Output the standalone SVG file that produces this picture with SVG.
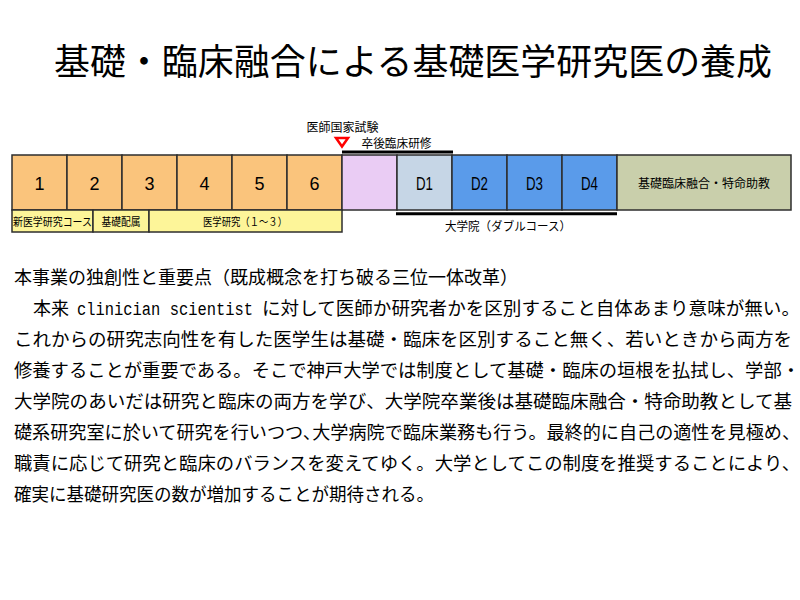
<svg xmlns="http://www.w3.org/2000/svg" width="800" height="600" viewBox="0 0 800 600">
<style>
  .jp { font-family: "Noto Sans CJK JP", "Noto Sans CJK SC", sans-serif; fill: #000; }
  .num { font-family: "Liberation Sans", Arial, sans-serif; font-size: 18px; fill: #000; text-anchor: middle; }
  .dl { font-family: "Liberation Sans", Arial, sans-serif; font-size: 19px; fill: #000; text-anchor: middle; }
  .box { stroke: #2e2e2e; stroke-width: 1.5; }
  .yr { fill: #FAC47C; }
  .pk { fill: #EACCF4; }
  .d1 { fill: #C6D6E6; }
  .dd { fill: #5A9BEA; }
  .ol { fill: #C9CFAB; }
  .ye { fill: #FDF599; }
  .sm { font-size: 11px; text-anchor: middle; }
  .md { font-size: 12px; }
  .body { font-size: 18px; }
  .bar { stroke: #000; stroke-width: 3; fill: none; }
</style>
<rect width="800" height="600" fill="#fff"/>

<g id="title">
  <text class="jp" x="54" y="75" font-size="36" textLength="718" lengthAdjust="spacingAndGlyphs">基礎・臨床融合による基礎医学研究医の養成</text>
</g>

<g id="year1"><rect class="box yr" x="12" y="155" width="55" height="55"/><text class="num" x="39.5" y="189.5">1</text></g>
<g id="year2"><rect class="box yr" x="67" y="155" width="55" height="55"/><text class="num" x="94.5" y="189.5">2</text></g>
<g id="year3"><rect class="box yr" x="122" y="155" width="55" height="55"/><text class="num" x="149.5" y="189.5">3</text></g>
<g id="year4"><rect class="box yr" x="177" y="155" width="55" height="55"/><text class="num" x="204.5" y="189.5">4</text></g>
<g id="year5"><rect class="box yr" x="232" y="155" width="55" height="55"/><text class="num" x="259.5" y="189.5">5</text></g>
<g id="year6"><rect class="box yr" x="287" y="155" width="55" height="55"/><text class="num" x="314.5" y="189.5">6</text></g>
<g id="residency"><rect class="box pk" x="342" y="155" width="55" height="55"/></g>
<g id="D1"><rect class="box d1" x="397" y="155" width="55" height="55"/><text class="dl" x="424.5" y="189.5" textLength="17" lengthAdjust="spacingAndGlyphs">D1</text></g>
<g id="D2"><rect class="box dd" x="452" y="155" width="55" height="55"/><text class="dl" x="479.5" y="189.5" textLength="17" lengthAdjust="spacingAndGlyphs">D2</text></g>
<g id="D3"><rect class="box dd" x="507" y="155" width="55" height="55"/><text class="dl" x="534.5" y="189.5" textLength="17" lengthAdjust="spacingAndGlyphs">D3</text></g>
<g id="D4"><rect class="box dd" x="562" y="155" width="55" height="55"/><text class="dl" x="589.5" y="189.5" textLength="17" lengthAdjust="spacingAndGlyphs">D4</text></g>
<g id="assistant-professor"><rect class="box ol" x="617" y="155" width="174" height="55"/><text class="jp md" x="704" y="187.5" text-anchor="middle" textLength="132" lengthAdjust="spacingAndGlyphs">基礎臨床融合・特命助教</text></g>

<g id="new-course"><rect class="box ye" x="12" y="210" width="81" height="22"/><text class="jp sm" x="52.5" y="226" textLength="79" lengthAdjust="spacingAndGlyphs">新医学研究コース</text></g>
<g id="basic-assignment"><rect class="box ye" x="93" y="210" width="56" height="22"/><text class="jp sm" x="121" y="226" textLength="39" lengthAdjust="spacingAndGlyphs">基礎配属</text></g>
<g id="medical-research"><rect class="box ye" x="149" y="210" width="193" height="22"/><text class="jp sm" x="245" y="226" textLength="84" lengthAdjust="spacingAndGlyphs">医学研究（１〜３）</text></g>

<g id="connectors">
  <line class="bar" x1="342" y1="152" x2="453" y2="152"/>
  <line class="bar" x1="396" y1="213.7" x2="617" y2="213.7"/>
  <polygon points="336,138 348,138 342,146.5" fill="#fff" stroke="#f00" stroke-width="2.5" stroke-linejoin="miter"/>
</g>

<g id="labels">
  <text class="jp md" x="306.5" y="131.5" textLength="72" lengthAdjust="spacingAndGlyphs">医師国家試験</text>
  <text class="jp md" x="361.5" y="148" textLength="70" lengthAdjust="spacingAndGlyphs">卒後臨床研修</text>
  <text class="jp md" x="445" y="231" textLength="126" lengthAdjust="spacingAndGlyphs">大学院（ダブルコース）</text>
</g>

<g id="body">
  <text class="jp body" x="14" y="284" textLength="504" lengthAdjust="spacingAndGlyphs">本事業の独創性と重要点（既成概念を打ち破る三位一体改革）</text>
  <text class="jp body" x="33" y="315" textLength="36" lengthAdjust="spacingAndGlyphs">本来</text>
  <text x="77" y="315" font-family="Liberation Mono, monospace" font-size="18" textLength="176" lengthAdjust="spacingAndGlyphs">clinician scientist</text>
  <text class="jp body" x="262" y="315" textLength="538" lengthAdjust="spacingAndGlyphs">に対して医師か研究者かを区別すること自体あまり意味が無い。</text>
  <text class="jp body" x="14" y="346" textLength="778" lengthAdjust="spacingAndGlyphs">これからの研究志向性を有した医学生は基礎・臨床を区別すること無く、若いときから両方を</text>
  <text class="jp body" x="14" y="377" textLength="786" lengthAdjust="spacingAndGlyphs">修養することが重要である。そこで神戸大学では制度として基礎・臨床の垣根を払拭し、学部・</text>
  <text class="jp body" x="14" y="408" textLength="778" lengthAdjust="spacingAndGlyphs">大学院のあいだは研究と臨床の両方を学び、大学院卒業後は基礎臨床融合・特命助教として基</text>
  <text class="jp body" x="14" y="439" textLength="786" lengthAdjust="spacingAndGlyphs">礎系研究室に於いて研究を行いつつ､大学病院で臨床業務も行う。最終的に自己の適性を見極め、</text>
  <text class="jp body" x="14" y="470" textLength="786" lengthAdjust="spacingAndGlyphs">職責に応じて研究と臨床のバランスを変えてゆく。大学としてこの制度を推奨することにより、</text>
  <text class="jp body" x="14" y="501" textLength="420" lengthAdjust="spacingAndGlyphs">確実に基礎研究医の数が増加することが期待される。</text>
</g>
</svg>
